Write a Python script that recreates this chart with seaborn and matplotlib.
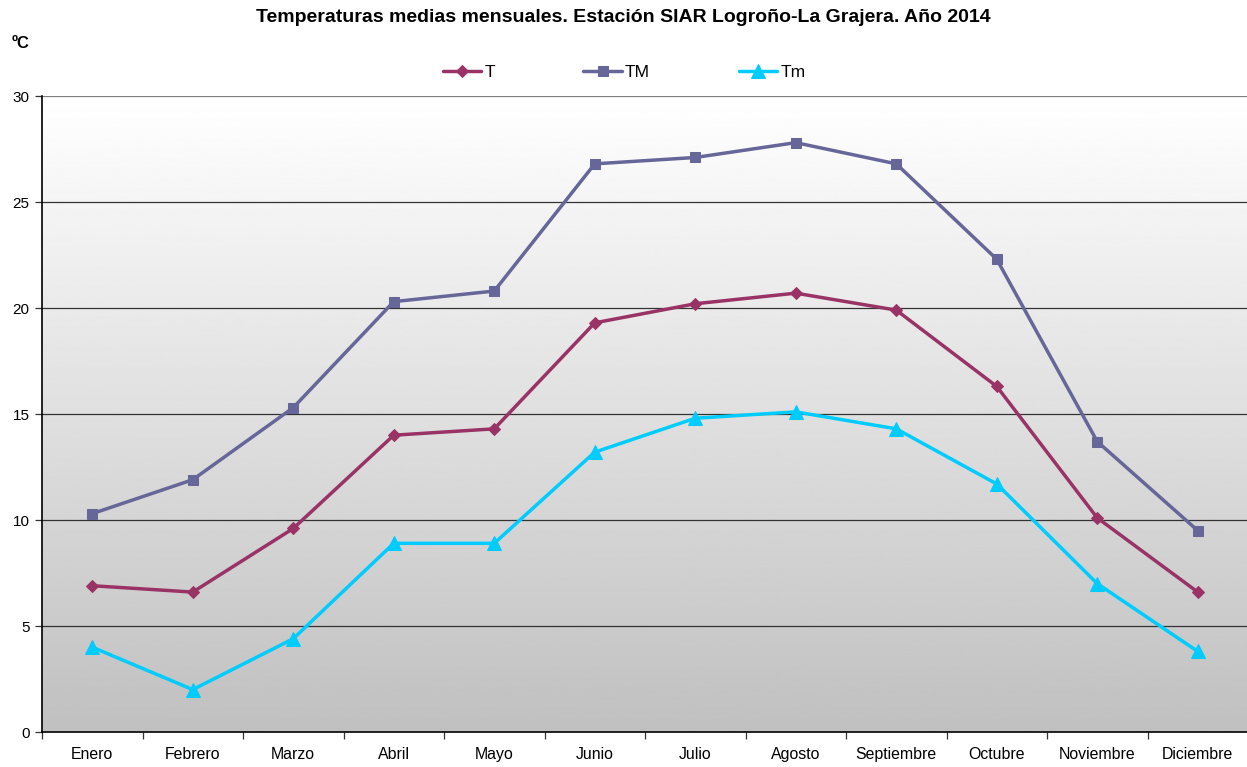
from matplotlib import pyplot as plt
from matplotlib.ticker import FixedLocator
import numpy as np
import pandas as pd
import seaborn as sns

# Monthly data
meses = ['Enero', 'Febrero', 'Marzo', 'Abril', 'Mayo', 'Junio', 'Julio',
         'Agosto', 'Septiembre', 'Octubre', 'Noviembre', 'Diciembre']
t_media = [6.9, 6.6, 9.6, 14.0, 14.3, 19.3, 20.2, 20.7, 19.9, 16.3, 10.1, 6.6]
t_max = [10.3, 11.9, 15.3, 20.3, 20.8, 26.8, 27.1, 27.8, 26.8, 22.3, 13.7, 9.5]
t_min = [4.0, 2.0, 4.4, 8.9, 8.9, 13.2, 14.8, 15.1, 14.3, 11.7, 7.0, 3.8]
y_ticks = [0, 5, 10, 15, 20, 25, 30]

sns.set_style('white')
plt.rcParams['font.family'] = ['Liberation Sans', 'DejaVu Sans']
plt.rcParams['text.color'] = 'black'
plt.rcParams['xtick.color'] = 'black'
plt.rcParams['ytick.color'] = 'black'

df = pd.DataFrame({'mes': meses, 'T': t_media, 'TM': t_max, 'Tm': t_min})
df['pos'] = np.arange(len(meses))

fig = plt.figure(figsize=(12.47, 7.67), dpi=100)
ax = fig.add_axes([42 / 1247, 1 - 732 / 767, 1206 / 1247, 636 / 767])

# Gray gradient background (white on top, gray at bottom)
grad = np.linspace(1.0, 0.753, 256).reshape(-1, 1)
ax.imshow(grad, cmap='gray', vmin=0, vmax=1, aspect='auto', origin='upper',
          extent=(-0.5, 11.5, 0, 30), zorder=0)

# Horizontal grid lines
for v in y_ticks[1:]:
    ax.axhline(v, color='#808080' if v == 30 else '#333333', lw=0.9, zorder=1)

series = [('T', '#993366', 'D', 6),
          ('TM', '#666699', 's', 7),
          ('Tm', '#00ccff', '^', 10)]
for name, color, marker, size in series:
    sns.lineplot(data=df, x='pos', y=name, ax=ax, color=color, lw=2.5,
                 marker=marker, markersize=size, markeredgecolor=color,
                 label=name, zorder=3)

ax.set_xlim(-0.5, 11.5)
ax.set_ylim(0, 30)
ax.set_xticks(df['pos'])
ax.set_xticklabels(meses, fontsize=11.4)
ax.xaxis.set_minor_locator(FixedLocator(np.arange(-0.5, 11.6, 1)))
ax.tick_params(axis='x', which='major', length=0, pad=11)
ax.tick_params(axis='x', which='minor', length=5, width=0.9, color='#333333',
               direction='out', bottom=True)
ax.set_yticks(y_ticks)
ax.set_yticklabels([str(v) for v in y_ticks], fontsize=11)
ax.tick_params(axis='y', length=5, width=0.9, color='#333333',
               direction='out', left=True, pad=4)
ax.set_xlabel('')
ax.set_ylabel('')

for side in ('top', 'right'):
    ax.spines[side].set_visible(False)
for side in ('left', 'bottom'):
    ax.spines[side].set_color('black')
    ax.spines[side].set_linewidth(1.2)

ax.legend(loc='center', bbox_to_anchor=(0.4826, 1.0377), ncol=3,
          frameon=False, fontsize=12.5, handlelength=2.2, columnspacing=5.1,
          handletextpad=0.2)

fig.text(0.5, 1 - 17 / 767, 'Temperaturas medias mensuales. Estación SIAR '
         'Logroño-La Grajera. Año 2014', ha='center', va='center',
         fontsize=14, fontweight='bold')
fig.text(12 / 1247, 1 - 44 / 767, 'ºC', ha='left', va='center',
         fontsize=12, fontweight='bold')

fig.savefig('out.png', dpi=100)
plt.close(fig)
